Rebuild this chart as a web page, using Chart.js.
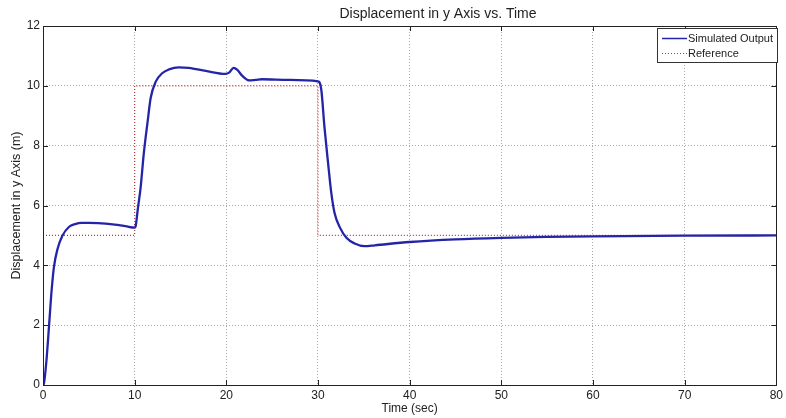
<!DOCTYPE html>
<html>
<head>
<meta charset="utf-8">
<title>Displacement in y Axis vs. Time</title>
<script src="https://cdn.jsdelivr.net/npm/chart.js@4.4.1/dist/chart.umd.min.js"></script>
<style>
  html, body { margin: 0; padding: 0; background: #fff; }
  #wrap { width: 786px; height: 418px; }
</style>
</head>
<body>
<div id="wrap"><canvas id="myChart" width="786" height="418"></canvas></div>
<script>
// values
const simTime = [0, 0.1, 0.36, 0.66, 0.95, 1.2, 1.57, 2.1, 2.85, 3.5, 4.2, 5, 6, 7.6, 9, 10,
  10.1, 10.35, 10.65, 11.0, 11.4, 11.75, 12.3, 13.0, 13.75, 14.8, 15.9, 17.75, 19.9,
  20.3, 20.8, 21.2, 21.75, 22.5, 23.2, 23.9, 26.8, 30.0, 30.36, 30.7, 31.1, 31.45,
  31.8, 32.4, 33.1, 34, 35.1, 36.2, 40, 45, 50, 55, 60, 70, 80];
const simDisp = [0, 0.05, 0.76, 1.98, 3.2, 3.96, 4.53, 4.98, 5.29, 5.38, 5.42, 5.42, 5.41, 5.37, 5.31, 5.26,
  5.3, 5.9, 6.6, 7.75, 8.77, 9.6, 10.14, 10.42, 10.55, 10.62, 10.6, 10.5, 10.4,
  10.44, 10.6, 10.53, 10.33, 10.18, 10.2, 10.22, 10.2, 10.15, 9.87, 8.64, 7.42, 6.42,
  5.76, 5.26, 4.92, 4.73, 4.64, 4.67, 4.78, 4.87, 4.92, 4.95, 4.97, 4.99, 5.0];
const refTime = [0, 10, 10, 30, 30, 80];
const refDisp = [5, 5, 10, 10, 5, 5];
const xTickValues = [0, 10, 20, 30, 40, 50, 60, 70, 80];
const yTickValues = [0, 2, 4, 6, 8, 10, 12];

const titleText = 'Displacement in y Axis vs. Time';
const fontFam = '"Liberation Sans", Arial, sans-serif';

const toPoints = (xs, ys) => xs.map((x, i) => ({ x: x, y: ys[i] }));

// box round the axes + inward tick marks, like matlab
const framePlugin = {
  id: 'frame',
  afterDraw(chart) {
    const ctx = chart.ctx;
    const a = chart.chartArea;
    const xs = chart.scales.x, ys = chart.scales.y;
    ctx.save();
    ctx.strokeStyle = '#222';
    ctx.lineWidth = 1;
    ctx.strokeRect(Math.round(a.left) + 0.5, Math.round(a.top) + 0.5,
      Math.round(a.right - a.left), Math.round(a.bottom - a.top));
    ctx.beginPath();
    xTickValues.forEach(v => {
      const px = Math.round(xs.getPixelForValue(v)) + 0.5;
      ctx.moveTo(px, a.bottom); ctx.lineTo(px, a.bottom - 5);
      ctx.moveTo(px, a.top); ctx.lineTo(px, a.top + 5);
    });
    yTickValues.forEach(v => {
      const py = Math.round(ys.getPixelForValue(v)) + 0.5;
      ctx.moveTo(a.left, py); ctx.lineTo(a.left + 5, py);
      ctx.moveTo(a.right, py); ctx.lineTo(a.right - 5, py);
    });
    ctx.stroke();

    // title
    ctx.fillStyle = '#222';
    ctx.font = '14px ' + fontFam;
    ctx.textAlign = 'center';
    ctx.textBaseline = 'middle';
    ctx.fillText(titleText, 438, 14);

    // legend box
    const lx = 657, ly = 28, lw = 120, lh = 34;
    ctx.fillStyle = '#fff';
    ctx.fillRect(lx, ly, lw, lh);
    ctx.strokeStyle = '#333';
    ctx.strokeRect(lx + 0.5, ly + 0.5, lw, lh);
    ctx.font = '11px ' + fontFam;
    ctx.textAlign = 'left';
    chart.data.datasets.forEach((ds, i) => {
      const ry = ly + 10 + i * 15;
      ctx.beginPath();
      ctx.strokeStyle = ds.borderColor;
      ctx.lineWidth = i === 0 ? 1.5 : 1;
      ctx.setLineDash(ds.borderDash || []);
      ctx.moveTo(lx + 5, ry + 0.5);
      ctx.lineTo(lx + 30, ry + 0.5);
      ctx.stroke();
      ctx.setLineDash([]);
      ctx.fillStyle = '#222';
      ctx.fillText(ds.label, lx + 31, ry + 1);
    });
    ctx.restore();
  }
};

const ctx = document.getElementById('myChart').getContext('2d');
const myChart = new Chart(ctx, {
  type: 'line',
  data: {
    datasets: [{
      label: 'Simulated Output',
      data: toPoints(simTime, simDisp),
      borderColor: '#2424a8',
      borderWidth: 2.3,
      pointRadius: 0,
      cubicInterpolationMode: 'monotone',
      fill: false
    }, {
      label: 'Reference',
      data: toPoints(refTime, refDisp),
      borderColor: '#b83838',
      borderWidth: 1.2,
      borderDash: [1, 2],
      pointRadius: 0,
      tension: 0,
      fill: false
    }]
  },
  options: {
    responsive: false,
    animation: false,
    devicePixelRatio: 1,
    layout: { padding: { top: 26, right: 7, left: 0, bottom: 0 } },
    plugins: {
      legend: { display: false },
      title: { display: false },
      tooltip: { enabled: false }
    },
    scales: {
      x: {
        type: 'linear',
        min: 0, max: 80,
        afterBuildTicks: s => { s.ticks = xTickValues.map(v => ({ value: v })); },
        afterFit: s => { s.height = 33; },
        grid: { color: '#a8a8a8', lineWidth: 1, drawTicks: false },
        border: { display: false, dash: [1, 2] },
        ticks: { color: '#222', padding: 3, maxRotation: 0, font: { family: fontFam, size: 12 } },
        title: { display: true, text: 'Time (sec)', color: '#222',
          padding: { top: 0, bottom: 2 }, font: { family: fontFam, size: 12 } }
      },
      y: {
        type: 'linear',
        min: 0, max: 12,
        afterBuildTicks: s => { s.ticks = yTickValues.map(v => ({ value: v })); },
        afterFit: s => { s.width = 43; },
        grid: { color: '#a8a8a8', lineWidth: 1, drawTicks: false },
        border: { display: false, dash: [1, 2] },
        ticks: { color: '#222', padding: 3, font: { family: fontFam, size: 12 } },
        title: { display: true, text: 'Displacement in y Axis (m)', color: '#222',
          padding: { top: 9, bottom: 0 }, font: { family: fontFam, size: 12.5 } }
      }
    }
  },
  plugins: [framePlugin]
});
</script>
</body>
</html>
